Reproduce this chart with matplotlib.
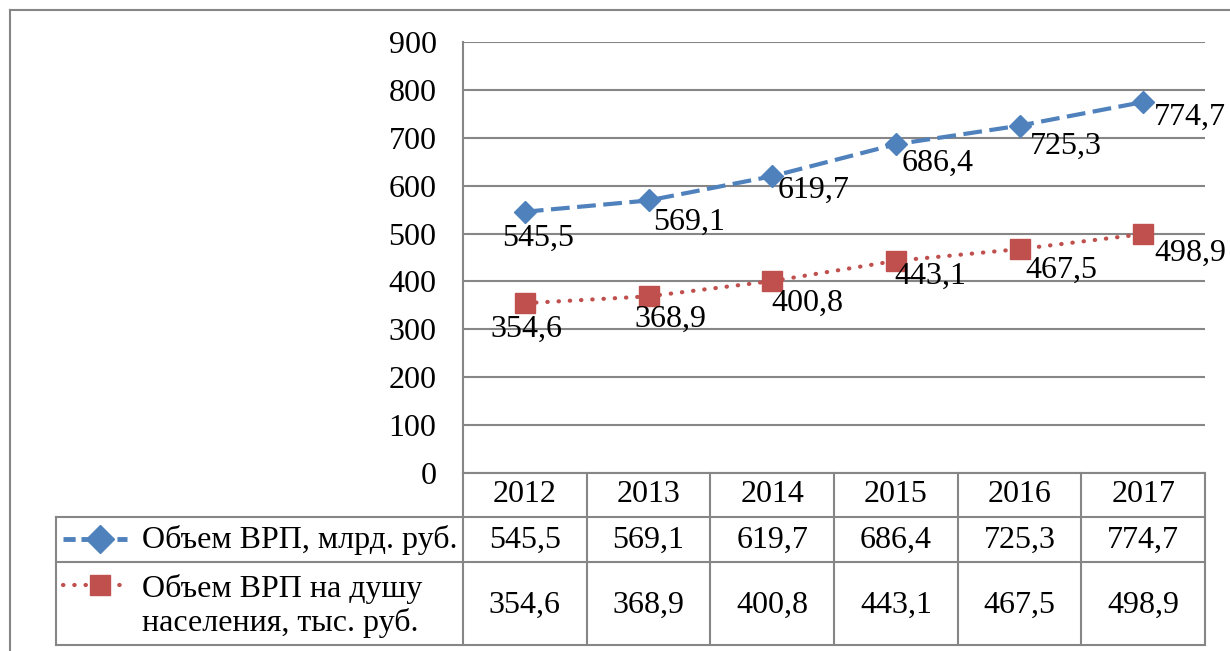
import matplotlib
matplotlib.use("Agg")
import matplotlib.pyplot as plt
from matplotlib.lines import Line2D

plt.rcParams['font.family'] = ['Liberation Serif', 'DejaVu Serif']

# данные
years = ['2012', '2013', '2014', '2015', '2016', '2017']
vrp = [545.5, 569.1, 619.7, 686.4, 725.3, 774.7]
vrp_per_capita = [354.6, 368.9, 400.8, 443.1, 467.5, 498.9]
name_vrp = 'Объем ВРП, млрд. руб.'
name_per_capita = 'Объем ВРП на душу\nнаселения, тыс. руб.'

# смещения подписей (пиксели)
off_vrp = [(13, -27), (41, -22), (41, -14), (42, -19), (46, -21), (47, -15)]
off_pc = [(2, -26), (22, -23), (35, -22), (34, -16), (42, -21), (47, -19)]

W, H = 1230, 651
blue = '#4F81BD'
red = '#C0504D'
grey = '#868686'
fs = 23

fig = plt.figure(figsize=(W / 100, H / 100), dpi=100)

def rect(x0, y0, x1, y1):
    return [x0 / W, 1 - y1 / H, (x1 - x0) / W, (y1 - y0) / H]

ax = fig.add_axes(rect(463, 42, 1205, 473))
x = list(range(len(years)))

blue_style = dict(color=blue, lw=3, ls=(0, (4.5, 1.8)), marker='D', ms=11,
                  markerfacecolor=blue, markeredgecolor=blue)
red_style = dict(color=red, lw=3, ls=(0, (0.1, 2.6)), dash_capstyle='round',
                 marker='s', ms=14, markerfacecolor=red, markeredgecolor=red)

ax.plot(x, vrp, **blue_style)
ax.plot(x, vrp_per_capita, **red_style)

for i, v in enumerate(vrp):
    ax.annotate(f'{v:.1f}'.replace('.', ','), (i, v), xytext=off_vrp[i],
                textcoords='offset pixels', ha='center', va='center',
                fontsize=fs, annotation_clip=False)
for i, v in enumerate(vrp_per_capita):
    ax.annotate(f'{v:.1f}'.replace('.', ','), (i, v), xytext=off_pc[i],
                textcoords='offset pixels', ha='center', va='center',
                fontsize=fs, annotation_clip=False)

ax.set_xlim(-0.5, 5.5)
ax.set_ylim(0, 900)
ax.set_yticks(range(0, 901, 100))
ax.tick_params(axis='y', length=0, pad=19, labelsize=fs)
ax.set_xticks([])
ax.grid(axis='y', color=grey, lw=1.5)
ax.set_axisbelow(True)
for s in ['top', 'right', 'bottom']:
    ax.spines[s].set_visible(False)
ax.spines['left'].set_color(grey)
ax.spines['left'].set_linewidth(1.5)

# таблица данных
col_px = (1205 - 463) / 6
left = -0.5 - (463 - 56) / col_px
tab = fig.add_axes(rect(56, 473, 1205, 645))
tab.set_xlim(left, 5.5)
tab.set_ylim(172, 0)
tab.axis('off')

def px(p):
    return left + (p - 56) / col_px

lk = dict(color=grey, lw=1.5, clip_on=False)
tab.plot([-0.5, 5.5], [0, 0], **lk)
tab.plot([left, 5.5], [44, 44], **lk)
tab.plot([left, 5.5], [89, 89], **lk)
tab.plot([left, 5.5], [172, 172], **lk)
tab.plot([left, left], [44, 172], **lk)
for k in range(7):
    tab.plot([k - 0.5, k - 0.5], [0, 172], **lk)

for i, yr in enumerate(years):
    tab.text(i, 22, yr, ha='center', va='center', fontsize=fs)
    tab.text(i, 67, f'{vrp[i]:.1f}'.replace('.', ','), ha='center', va='center', fontsize=fs)
    tab.text(i, 132, f'{vrp_per_capita[i]:.1f}'.replace('.', ','), ha='center', va='center', fontsize=fs)

# ключи легенды
tab.plot([px(63), px(127)], [66, 66], color=blue, lw=3.5, ls=(0, (2.5, 1.2)), clip_on=False)
tab.plot([px(100)], [66], marker='D', ms=14, color=blue, clip_on=False)
tab.plot([px(63), px(127)], [112, 112], color=red, lw=3, ls=(0, (0.1, 2.6)),
         dash_capstyle='round', clip_on=False)
tab.plot([px(100)], [112], marker='s', ms=15, color=red, clip_on=False)
tab.text(px(142), 67, name_vrp, ha='left', va='center', fontsize=fs)
tab.text(px(142), 133, name_per_capita, ha='left', va='center', fontsize=fs, linespacing=1.15)

# рамка
fig.add_artist(Line2D([10 / W, 10 / W], [0, 1 - 10 / H], color=grey, lw=1.5))
fig.add_artist(Line2D([10 / W, 1], [1 - 10 / H, 1 - 10 / H], color=grey, lw=1.5))

fig.savefig('out.png', dpi=100)
